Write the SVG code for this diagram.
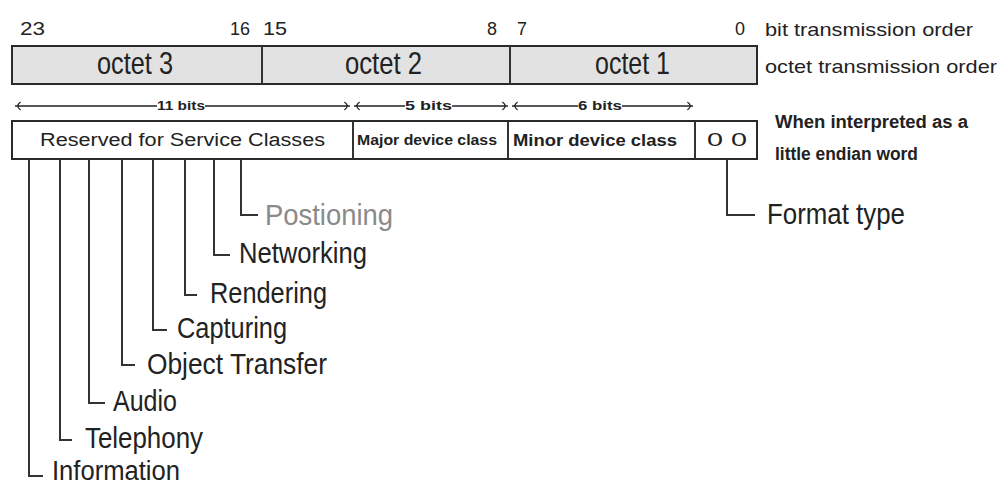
<svg xmlns="http://www.w3.org/2000/svg" width="1003" height="484" viewBox="0 0 1003 484">
<style>
.box{fill:#ffffff;stroke:#2a2a2a;stroke-width:2}
.gbox{fill:#e2e2e2;stroke:#2a2a2a;stroke-width:2}
.ln{stroke:#333;stroke-width:2;fill:none}
.thin{stroke:#222;stroke-width:1.5;fill:none}
.t{font-family:"Liberation Sans",Arial,sans-serif;fill:#222}
.lbl{font-family:"Liberation Sans",Arial,sans-serif;fill:#222;font-size:29px}
.b{font-weight:bold}
</style>
<defs>
<marker id="ah" viewBox="0 0 10 10" refX="9" refY="5" markerWidth="8" markerHeight="12" orient="auto-start-reverse" markerUnits="userSpaceOnUse">
<path d="M2,0 Q9,5 2,10" fill="none" stroke="#222" stroke-width="1.6"/>
</marker>
</defs>
<rect width="1003" height="484" fill="#ffffff"/>

<g id="bit-numbers">
<text class="t" x="20" y="35" font-size="18" textLength="25" lengthAdjust="spacingAndGlyphs">23</text>
<text class="t" x="230" y="35" font-size="18" textLength="20" lengthAdjust="spacingAndGlyphs">16</text>
<text class="t" x="263" y="35" font-size="18" textLength="24" lengthAdjust="spacingAndGlyphs">15</text>
<text class="t" x="487" y="35" font-size="18" textLength="10" lengthAdjust="spacingAndGlyphs">8</text>
<text class="t" x="517" y="35" font-size="18" textLength="10" lengthAdjust="spacingAndGlyphs">7</text>
<text class="t" x="735" y="35" font-size="18" textLength="10" lengthAdjust="spacingAndGlyphs">0</text>
<text class="t" x="765" y="36" font-size="19" textLength="208" lengthAdjust="spacingAndGlyphs">bit transmission order</text>
</g>

<g id="octets">
<rect class="gbox" x="12" y="46" width="745" height="38"/>
<line class="ln" x1="262" y1="46" x2="262" y2="84"/>
<line class="ln" x1="510" y1="46" x2="510" y2="84"/>
<text class="t" x="97" y="74" font-size="32" textLength="76" lengthAdjust="spacingAndGlyphs">octet 3</text>
<text class="t" x="345" y="74" font-size="32" textLength="77" lengthAdjust="spacingAndGlyphs">octet 2</text>
<text class="t" x="595" y="74" font-size="32" textLength="75" lengthAdjust="spacingAndGlyphs">octet 1</text>
<text class="t" x="765" y="73" font-size="19" textLength="232" lengthAdjust="spacingAndGlyphs">octet transmission order</text>
</g>

<g id="connectors">
<line class="thin" x1="157" y1="106" x2="15" y2="106" marker-end="url(#ah)"/>
<line class="thin" x1="205" y1="106" x2="350" y2="106" marker-end="url(#ah)"/>
<line class="thin" x1="405" y1="106" x2="354" y2="106" marker-end="url(#ah)"/>
<line class="thin" x1="452" y1="106" x2="508" y2="106" marker-end="url(#ah)"/>
<line class="thin" x1="578" y1="106" x2="512" y2="106" marker-end="url(#ah)"/>
<line class="thin" x1="622" y1="106" x2="693" y2="106" marker-end="url(#ah)"/>
<polyline class="ln" points="241,159 241,215 258,215"/>
<polyline class="ln" points="214,159 214,255 230,255"/>
<polyline class="ln" points="185,159 185,295 197,295"/>
<polyline class="ln" points="153,159 153,330 167,330"/>
<polyline class="ln" points="122,159 122,365 135,365"/>
<polyline class="ln" points="89,159 89,403 105,403"/>
<polyline class="ln" points="60,159 60,440 72,440"/>
<polyline class="ln" points="29,159 29,476 43,476"/>
<polyline class="ln" points="727,159 727,215 755,215"/>
</g>

<g id="bit-widths">
<text class="t b" x="157" y="110" font-size="13" textLength="48" lengthAdjust="spacingAndGlyphs">11 bits</text>
<text class="t b" x="405" y="110" font-size="13" textLength="47" lengthAdjust="spacingAndGlyphs">5 bits</text>
<text class="t b" x="578" y="110" font-size="13" textLength="44" lengthAdjust="spacingAndGlyphs">6 bits</text>
</g>

<g id="fields">
<rect class="box" x="12" y="121" width="745" height="38"/>
<line class="ln" x1="353" y1="121" x2="353" y2="159"/>
<line class="ln" x1="508" y1="121" x2="508" y2="159"/>
<line class="ln" x1="695" y1="121" x2="695" y2="159"/>
<text class="t" x="40" y="146" font-size="18" textLength="285" lengthAdjust="spacingAndGlyphs">Reserved for Service Classes</text>
<text class="t b" x="357" y="145" font-size="14" textLength="140" lengthAdjust="spacingAndGlyphs">Major device class</text>
<text class="t b" x="513" y="146" font-size="16" textLength="164" lengthAdjust="spacingAndGlyphs">Minor device class</text>
<text class="t" x="707" y="146" font-size="18" textLength="40" lengthAdjust="spacingAndGlyphs">0 0</text>
<text class="t b" x="775" y="128" font-size="18" textLength="193" lengthAdjust="spacingAndGlyphs">When interpreted as a</text>
<text class="t b" x="775" y="160" font-size="18" textLength="143" lengthAdjust="spacingAndGlyphs">little endian word</text>
</g>

<g id="positioning"><text class="lbl" x="265" y="225" style="fill:#8a8a8a" textLength="128" lengthAdjust="spacingAndGlyphs">Postioning</text></g>
<g id="networking"><text class="lbl" x="239" y="263" textLength="128" lengthAdjust="spacingAndGlyphs">Networking</text></g>
<g id="rendering"><text class="lbl" x="210" y="303" textLength="117" lengthAdjust="spacingAndGlyphs">Rendering</text></g>
<g id="capturing"><text class="lbl" x="177" y="338" textLength="110" lengthAdjust="spacingAndGlyphs">Capturing</text></g>
<g id="object-transfer"><text class="lbl" x="147" y="374" textLength="180" lengthAdjust="spacingAndGlyphs">Object Transfer</text></g>
<g id="audio"><text class="lbl" x="113" y="411" textLength="64" lengthAdjust="spacingAndGlyphs">Audio</text></g>
<g id="telephony"><text class="lbl" x="85" y="448" textLength="118" lengthAdjust="spacingAndGlyphs">Telephony</text></g>
<g id="information"><text class="lbl" x="52" y="480" font-size="27" style="font-size:27px" textLength="128" lengthAdjust="spacingAndGlyphs">Information</text></g>
<g id="format-type"><text class="lbl" x="767" y="224" textLength="138" lengthAdjust="spacingAndGlyphs">Format type</text></g>
</svg>
